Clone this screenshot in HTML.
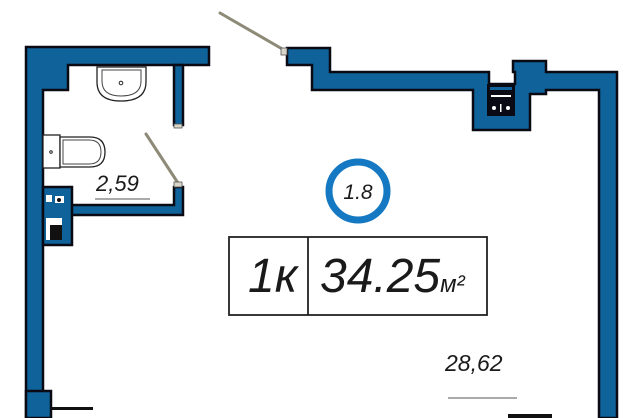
<!DOCTYPE html>
<html><head><meta charset="utf-8"><style>
html,body{margin:0;padding:0;background:#fff;width:640px;height:418px;overflow:hidden}
svg{display:block}
text{font-family:"Liberation Sans",sans-serif;font-style:italic;fill:#1a1a1a}
</style></head><body>
<svg width="640" height="418" viewBox="0 0 640 418" xmlns="http://www.w3.org/2000/svg">
<g fill="#0f639a" stroke="#0a0a14" stroke-width="2.5" stroke-linejoin="miter">
  <!-- left/top bathroom walls -->
  <path d="M26 47 H209 V65 H68 V90 H43 V418 H26 Z"/>
  <rect x="174" y="65" width="9" height="60"/>
  <path d="M43 205 H174 V187 H183 V215 H43 Z"/>
  <path d="M43 187 H72 V245 H43 Z"/>
  <!-- bottom left block -->
  <path d="M26 391 H51 V418 H26 Z"/>
  <!-- top right walls -->
  <path d="M287 48 H330 V72 H489 V84 H515 V72 H513 V61 H546 V72 H617 V418 H599 V90 H546 V94 H530 V130 H473 V90 H312 V65 H287 Z"/>
</g>
<!-- pocket near top -->
<rect x="487" y="84" width="28" height="32" fill="#0a0a14"/>
<rect x="490" y="87" width="22" height="3" fill="#0f639a"/>
<rect x="491" y="95" width="20" height="2" fill="#fff"/>
<circle cx="494" cy="108" r="2" fill="#fff"/><circle cx="508" cy="108" r="2" fill="#fff"/>
<rect x="500" y="104" width="1.5" height="8" fill="#fff"/>
<!-- small shaft details -->
<rect x="46" y="195" width="6" height="7" fill="#fff"/>
<rect x="55" y="196" width="9" height="7" fill="#fff"/><circle cx="59" cy="200" r="2" fill="#111"/>
<rect x="46" y="218" width="16" height="22" fill="#fff"/>
<rect x="50" y="225" width="12" height="15" fill="#111"/>
<!-- bottom lines -->
<rect x="51" y="407" width="42" height="3" fill="#111"/>
<rect x="508" y="414" width="44" height="4" fill="#111"/>
<!-- doors -->
<g stroke="#8d8a78" stroke-width="3" stroke-linecap="round">
  <line x1="220" y1="13" x2="284" y2="50"/>
  <line x1="146" y1="134" x2="178" y2="183"/>
</g>
<rect x="281" y="48" width="6" height="7" fill="#d8d6c8" stroke="#555" stroke-width="0.8"/>
<rect x="174" y="182" width="8" height="5" fill="#d8d6c8" stroke="#555" stroke-width="0.8"/>
<rect x="174" y="124" width="8" height="4" fill="#d8d6c8" stroke="#555" stroke-width="0.8"/>
<!-- sink -->
<path d="M97 67 H146 V82 Q146 101 121 101 Q97 101 97 82 Z" fill="#fff" stroke="#222" stroke-width="1.3"/>
<path d="M102 70 H141 V81 Q141 96 121 96 Q102 96 102 81 Z" fill="none" stroke="#444" stroke-width="1"/>
<circle cx="121" cy="83" r="1.8" fill="none" stroke="#222"/>
<!-- toilet -->
<rect x="43" y="135" width="17" height="33" fill="#fff" stroke="#222" stroke-width="1.3"/>
<circle cx="51" cy="152" r="1.3" fill="none" stroke="#222"/>
<path d="M60 137 H90 Q105 137 105 152 Q105 167 90 167 H60 Z" fill="#fff" stroke="#222" stroke-width="1.3"/>
<path d="M63 140 L89 140 Q101 140 101 152 Q101 164 89 164 L63 164 Z" fill="none" stroke="#444" stroke-width="1"/>
<!-- labels -->
<text x="96" y="191" font-size="22">2,59</text>
<line x1="95" y1="199" x2="150" y2="199" stroke="#777" stroke-width="1.3"/>
<text x="445" y="371" font-size="23">28,62</text>
<line x1="448" y1="398" x2="517" y2="398" stroke="#777" stroke-width="1.3"/>
<!-- circle -->
<circle cx="358" cy="191" r="29" fill="#fff" stroke="#1479c2" stroke-width="7"/>
<text x="358" y="199" font-size="21" text-anchor="middle">1.8</text>
<!-- box -->
<rect x="229" y="237" width="258" height="78" fill="none" stroke="#222" stroke-width="1.8"/>
<line x1="308" y1="237" x2="308" y2="315" stroke="#222" stroke-width="1.8"/>
<text x="248" y="292" font-size="48">1к</text>
<text x="320" y="292" font-size="48">34.25<tspan font-size="24">м²</tspan></text>
</svg>
</body></html>
